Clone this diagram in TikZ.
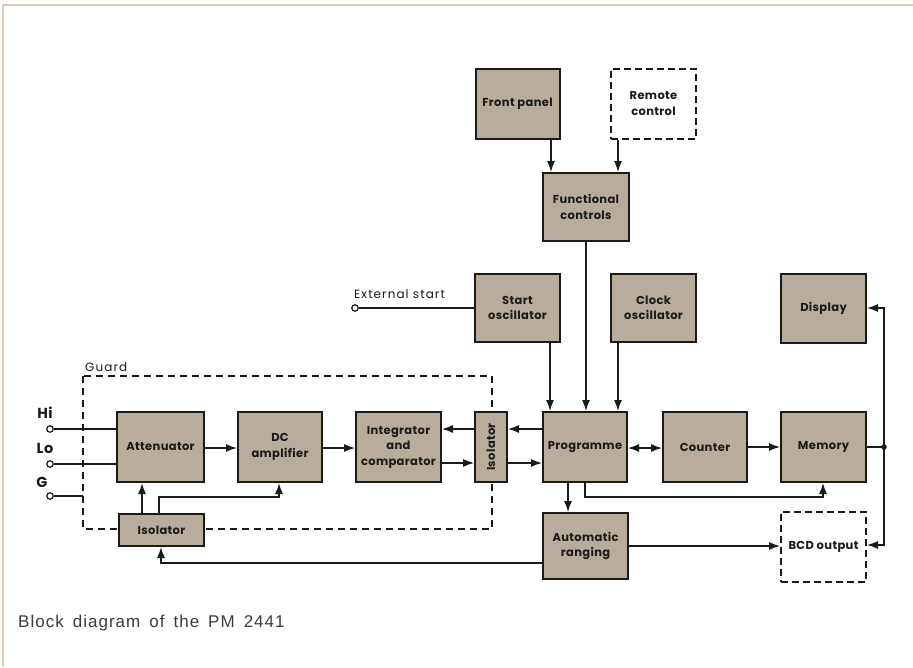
\documentclass[tikz,border=0pt]{standalone}
\usepackage{fontspec}
\setmainfont{Liberation Sans}
\newfontfamily\blkfont{Poppins}[LetterSpace=3]
\newfontfamily\lblfont{Poppins}[LetterSpace=9]
\newfontfamily\capfont{Liberation Sans}[LetterSpace=6]
\usetikzlibrary{arrows.meta,calc}
\definecolor{tan}{HTML}{B8AD9C}
\definecolor{framec}{HTML}{D9CDB8}
\definecolor{ink}{HTML}{1A1A1A}
\tikzset{
  blk/.style={draw=ink, line width=2pt, fill=tan, align=center, inner sep=0pt,
    font=\blkfont\bfseries\fontsize{11.5}{15.5}\selectfont, text=ink},
  dblk/.style={blk, fill=white, dash pattern=on 7pt off 4pt},
  conn/.style={draw=ink, line width=1.3pt},
  arr/.style={conn, -{Latex[length=11pt,width=8pt]}},
  darr/.style={conn, {Latex[length=11pt,width=8pt]}-{Latex[length=11pt,width=8pt]}},
  term/.style={circle, draw=ink, fill=white, line width=1.2pt, minimum size=6.5pt, inner sep=0pt},
  lbl/.style={font=\lblfont\fontsize{12}{13}\selectfont, text=ink, inner sep=0pt},
  big/.style={font=\blkfont\bfseries\fontsize{14.5}{16}\selectfont, text=ink, inner sep=0pt},
  guard/.style={draw=ink, line width=1.3pt, dash pattern=on 7pt off 5pt},
}
\begin{document}
\begin{tikzpicture}[x=1pt,y=-1pt]
\useasboundingbox (0,0) rectangle (913,667);
\fill[white] (0,0) rectangle (913,667);
\draw[framec, line width=2.5pt] (3,667) -- (3,5) -- (913,5);
% guard
\draw[guard] (83,376) rectangle (492,529);
\node[lbl, anchor=base west] (glbl) at (85,371) {Guard};
% blocks
\node[blk, minimum width=84pt, minimum height=70pt] (fp) at (517.5,103.5) {Front panel};
\node[dblk, minimum width=85pt, minimum height=70pt] (rc) at (653.5,103.5) {Remote\\control};
\node[blk, minimum width=86pt, minimum height=68pt] (fc) at (586,207) {Functional\\controls};
\node[blk, minimum width=85pt, minimum height=68pt] (so) at (517.5,308) {Start\\oscillator};
\node[blk, minimum width=85pt, minimum height=68pt] (co) at (653.5,308) {Clock\\oscillator};
\node[blk, minimum width=85pt, minimum height=69pt] (disp) at (823.5,308.5) {Display};
\node[blk, minimum width=87pt, minimum height=70pt] (att) at (160.5,447) {Attenuator};
\node[blk, minimum width=84pt, minimum height=70pt] (dca) at (280,447) {DC\\amplifier};
\node[blk, minimum width=85pt, minimum height=70pt] (int) at (398.5,447) {Integrator\\and\\comparator};
\node[blk, minimum width=32pt, minimum height=70pt] (iso1) at (491,447) {};
\node[blk, draw=none, fill=none, rotate=90] (iso1t) at (iso1.center) {Isolator};
\node[blk, minimum width=84pt, minimum height=70pt] (prog) at (585,447) {Programme};
\node[blk, minimum width=84pt, minimum height=70pt] (cnt) at (705,447) {Counter};
\node[blk, minimum width=85pt, minimum height=70pt] (mem) at (823.5,447) {Memory};
\node[blk, minimum width=85pt, minimum height=32pt] (iso2) at (161.5,530) {Isolator};
\node[blk, minimum width=85pt, minimum height=66pt] (ar) at (585.5,546) {Automatic\\ranging};
\node[dblk, minimum width=85pt, minimum height=70pt] (bcd) at (823.5,547) {BCD output};
% terminals
\node[term] (ext) at (355,308) {};
\node[lbl, anchor=base west] (extl) at (354,298) {External start};
\node[term] (hi) at (50,429) {};
\node[term] (lo) at (50,464) {};
\node[term] (g) at (50,496) {};
\node[big, anchor=base] (hil) at (45,418) {Hi};
\node[big, anchor=base] (lol) at (45,453) {Lo};
\node[big, anchor=base] (gl) at (42,487) {G};
\coordinate (gd) at (83,496);
\coordinate (dot) at (884,447);
% connectors
\draw[arr] (fp.south -| 551,0) -- (fc.north -| 551,0);
\draw[arr] (rc.south -| 618,0) -- (fc.north -| 618,0);
\draw[arr] (fc.south) -- (prog.north -| fc.south);
\draw[arr] (so.south -| 550,0) -- (prog.north -| 550,0);
\draw[arr] (co.south -| 618,0) -- (prog.north -| 618,0);
\draw[conn] (ext.east) -- (so.west);
\draw[conn] (hi.east) -- (att.west |- hi);
\draw[conn] (lo.east) -- (att.west |- lo);
\draw[conn] (g.east) -- (gd);
\draw[arr] (att.east |- 0,448) -- (dca.west |- 0,448);
\draw[arr] (dca.east |- 0,448) -- (int.west |- 0,448);
\draw[arr] (iso1.west |- 0,429) -- (int.east |- 0,429);
\draw[arr] (int.east |- 0,463) -- (iso1.west |- 0,463);
\draw[arr] (prog.west |- 0,429) -- (iso1.east |- 0,429);
\draw[arr] (iso1.east |- 0,463) -- (prog.west |- 0,463);
\draw[darr] (prog.east |- 0,448) -- (cnt.west |- 0,448);
\draw[arr] (cnt.east) -- (mem.west);
\draw[conn] (mem.east) -- (dot);
\fill[ink] (dot) circle (2.8pt);
\draw[arr] (dot) -- (884,308) -- (disp.east |- 0,308);
\draw[arr] (dot) -- (884,545) -- (bcd.east |- 0,545);
\draw[arr] (prog.south -| 585,0) -- (585,497) -- (823,497) -- (mem.south -| 823,0);
\draw[arr] (prog.south -| 568,0) -- (ar.north -| 568,0);
\draw[arr] (ar.east |- 0,546) -- (bcd.west |- 0,546);
\draw[arr] (ar.west |- 0,563) -- (161,563) -- (iso2.south -| 161,0);
\draw[arr] (iso2.north -| 142,0) -- (att.south -| 142,0);
\draw[arr] (iso2.north -| 159,0) -- (159,497) -- (279,497) -- (dca.south -| 279,0);
% caption
\node[anchor=base west, inner sep=0pt, text=ink!85, font=\capfont\fontsize{17}{19}\selectfont] (cap) at (18,627) {Block\hspace{9pt}diagram\hspace{9pt}of\hspace{9pt}the\hspace{9pt}PM\hspace{9pt}2441};
\end{tikzpicture}
\end{document}
